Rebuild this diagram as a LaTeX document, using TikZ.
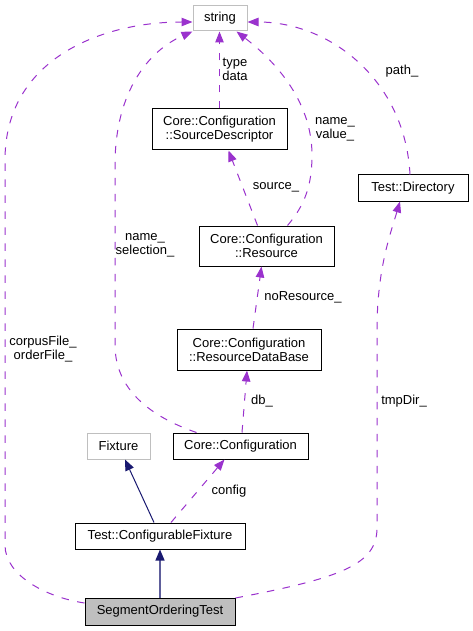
\documentclass[tikz,border=0pt]{standalone}
\usepackage{fontspec}
\setmainfont{Liberation Sans}
\usetikzlibrary{arrows.meta,calc}
\definecolor{usecol}{HTML}{9A32CD}
\definecolor{inhcol}{HTML}{191970}
\definecolor{grayline}{HTML}{BFBFBF}
\definecolor{sotfill}{HTML}{BFBFBF}
\begin{document}
\begin{tikzpicture}[x=1pt,y=-1pt,
  cls/.style={draw=black, line width=1pt, fill=white, inner sep=0pt, align=center,
    font=\fontsize{13}{14}\selectfont},
  ext/.style={cls, draw=grayline},
  lbl/.style={inner sep=0pt, align=center, font=\fontsize{13}{14}\selectfont},
  use/.style={draw=usecol, line width=1pt, dash pattern=on 7.5pt off 8.5pt,
    -{Triangle[length=11pt,width=8.5pt]}},
  inh/.style={draw=inhcol, line width=1pt, -{Triangle[length=11pt,width=9pt,color=inhcol]}},
]
\useasboundingbox (0,0) rectangle (473,631);
% nodes
\node[ext, minimum width=54pt, minimum height=25pt] (string) at (220,18.5) {string};
\node[cls, minimum width=135pt, minimum height=41pt] (sd) at (219.5,129.5) {Core::Configuration\\::SourceDescriptor};
\node[cls, minimum width=110pt, minimum height=26pt] (td) at (413,188) {Test::Directory};
\node[cls, minimum width=135pt, minimum height=40pt] (res) at (266.5,246) {Core::Configuration\\::Resource};
\node[cls, minimum width=144pt, minimum height=41pt] (rdb) at (249,349.5) {Core::Configuration\\::ResourceDataBase};
\node[ext, minimum width=63pt, minimum height=26pt] (fix) at (118.5,446) {Fixture};
\node[cls, minimum width=135pt, minimum height=26pt] (cc) at (240.5,446) {Core::Configuration};
\node[cls, minimum width=170pt, minimum height=26pt] (cf) at (160,536) {Test::ConfigurableFixture};
\node[cls, fill=sotfill, minimum width=150pt, minimum height=27pt] (sot) at (160,611.5) {SegmentOrderingTest};
% labels
\node[lbl] (l1) at (43,349) {corpusFile\_\\orderFile\_};
\node[lbl] (l2) at (145,245) {name\_\\selection\_};
\node[lbl] (l3) at (235,69) {type\\data};
\node[lbl] (l4) at (335,129) {name\_\\value\_};
\node[lbl] (l5) at (402,71) {path\_};
\node[lbl] (l6) at (276,187) {source\_};
\node[lbl] (l7) at (303,297) {noResource\_};
\node[lbl] (l8) at (262,401) {db\_};
\node[lbl] (l9) at (404,401) {tmpDir\_};
\node[lbl] (l10) at (229,491) {config};
% connectors
\draw[use] ([yshift=8.5pt]sot.west) .. controls (45,597) and (5,575) .. (5,545)
  -- (5,160) .. controls (5,60) and (100,22) .. ([yshift=-3.5pt]string.west);
\draw[use] ([xshift=24pt]cc.north west) .. controls (160,420) and (115,395) .. (115,345)
  -- (115,165) .. controls (115,90) and (150,50) .. (string.south west);
\draw[use] (sd.north) -- (sd.north |- string.south);
\draw[use] ([xshift=89pt]res.north west) .. controls (305,205) and (312,185) .. (312,155)
  .. controls (312,105) and (280,65) .. ([xshift=-11pt]string.south east);
\draw[use] ([xshift=-3pt]td.north) .. controls (405,80) and (330,22) .. ([yshift=-3.5pt]string.east);
\draw[use] ([xshift=59pt]res.north west) -- ([xshift=77pt]sd.south west);
\draw[use] ([xshift=4pt]rdb.north) -- ([xshift=-5pt]res.south);
\draw[use] ([xshift=1.5pt]cc.north) -- ([xshift=-2pt]rdb.south);
\draw[use] ([xshift=11pt]cf.north) -- ([xshift=52pt]cc.south west);
\draw[inh] ([xshift=-6pt]cf.north) -- ([xshift=6.5pt]fix.south);
\draw[inh, line width=1.3pt, draw=inhcol!70] (sot.north) -- (cf.south);
\draw[use] ([yshift=13.5pt]sot.east) .. controls (340,578) and (377,565) .. (377,528)
  -- (377,330) .. controls (377,270) and (390,235) .. ([xshift=-13pt]td.south);
\end{tikzpicture}
\end{document}
